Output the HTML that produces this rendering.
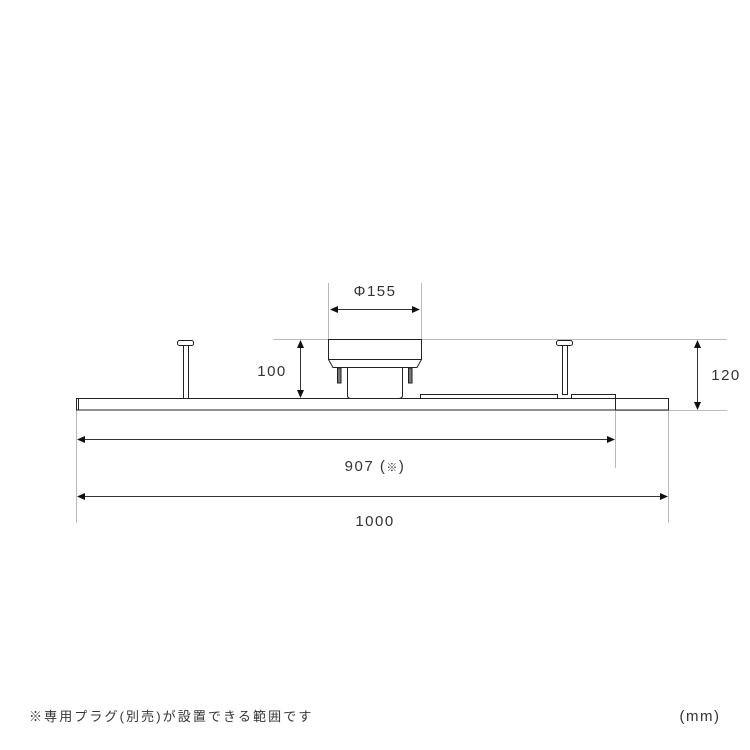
<!DOCTYPE html>
<html><head><meta charset="utf-8"><style>
html,body{margin:0;padding:0;background:#fff;}
svg{display:block}
text{font-family:"Liberation Sans","Noto Sans CJK JP",sans-serif;fill:#333}
</style></head><body>
<svg width="750" height="750" viewBox="0 0 750 750" xmlns="http://www.w3.org/2000/svg">
<defs>
<marker id="a" markerWidth="8" markerHeight="8" refX="7" refY="4" orient="auto-start-reverse" markerUnits="userSpaceOnUse"><path d="M0,0.5 L8,4 L0,7.5z" fill="#111"/></marker>
</defs>
<g stroke="#bbb" stroke-width="1" fill="none">
<line x1="273" y1="339.5" x2="727" y2="339.5"/>
<line x1="615" y1="410.5" x2="727" y2="410.5"/>
<line x1="328.5" y1="283" x2="328.5" y2="339"/>
<line x1="421.5" y1="283" x2="421.5" y2="339"/>
<line x1="76.5" y1="410" x2="76.5" y2="523"/>
<line x1="615.5" y1="410" x2="615.5" y2="468"/>
<line x1="668.5" y1="410" x2="668.5" y2="523"/>
</g>
<g stroke="#222" stroke-width="1" fill="#fff">
<rect x="76.5" y="398.5" width="539" height="11.5"/>
<rect x="615.5" y="398.5" width="53" height="11.5"/>
<line x1="78.5" y1="398.5" x2="78.5" y2="410"/>
<rect x="420.5" y="394.5" width="137" height="4"/>
<rect x="571.5" y="394.5" width="44" height="4"/>
<rect x="183.5" y="345" width="5" height="53.5"/>
<rect x="562.5" y="345" width="5" height="49.5"/>
<rect x="177.5" y="340.5" width="16" height="5" rx="2"/>
<rect x="556.5" y="340.5" width="16" height="5" rx="2"/>
<path d="M347.5,367 L347.5,396 Q348,398.5 351,398.5 L398,398.5 Q402,398.5 402.5,396 L402.5,367"/>
<rect x="337.5" y="368" width="3.5" height="15" fill="#777"/>
<rect x="408.5" y="368" width="3.5" height="15" fill="#777"/>
<path d="M328.5,339.5 L421.5,339.5 L421.5,359.5 L417,367.5 L333,367.5 L328.5,359.5 Z"/>
<line x1="328.5" y1="359.5" x2="421.5" y2="359.5"/>
</g>
<g stroke="#333" stroke-width="1">
<line x1="331" y1="309.5" x2="419" y2="309.5" marker-start="url(#a)" marker-end="url(#a)"/>
<line x1="300.5" y1="341" x2="300.5" y2="397" marker-start="url(#a)" marker-end="url(#a)"/>
<line x1="697.5" y1="341" x2="697.5" y2="409" marker-start="url(#a)" marker-end="url(#a)"/>
<line x1="78" y1="439.5" x2="614" y2="439.5" marker-start="url(#a)" marker-end="url(#a)"/>
<line x1="78" y1="496.5" x2="667" y2="496.5" marker-start="url(#a)" marker-end="url(#a)"/>
</g>
<g font-size="15" letter-spacing="1.5">
<text x="375" y="296" text-anchor="middle">Φ155</text>
<text x="272" y="376" text-anchor="middle">100</text>
<text x="726" y="380" text-anchor="middle">120</text>
<text x="375" y="471" text-anchor="middle">907 (<tspan font-size="11">※</tspan>)</text>
<text x="375" y="526" text-anchor="middle">1000</text>
<text x="29" y="721" font-size="13" letter-spacing="2.1">※専用プラグ(別売)が設置できる範囲です</text>
<text x="700" y="721" text-anchor="middle">(mm)</text>
</g>
</svg>
</body></html>
